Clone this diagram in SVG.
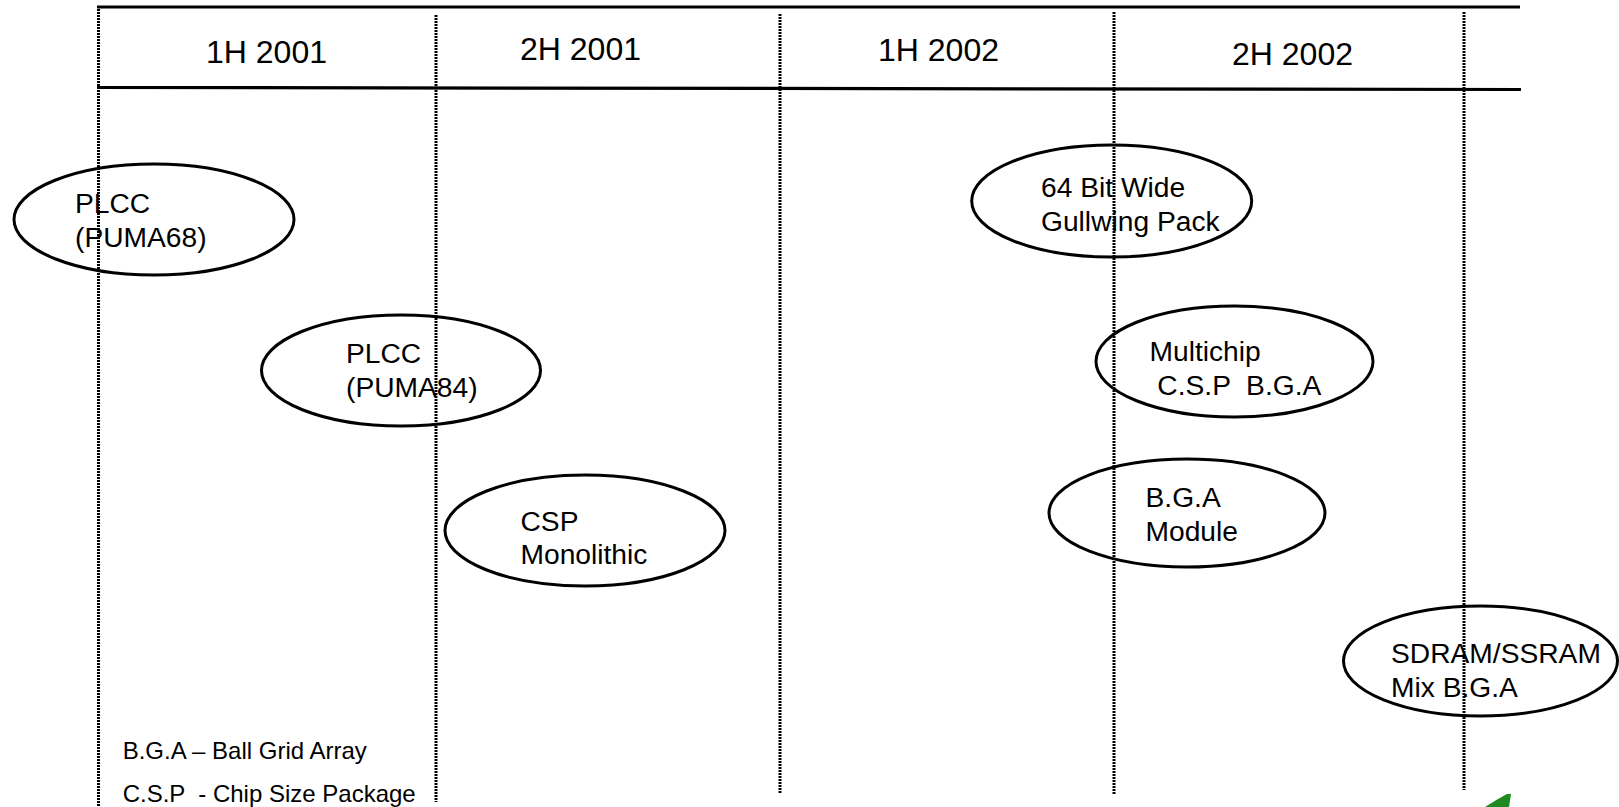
<svg xmlns="http://www.w3.org/2000/svg" width="1619" height="807" viewBox="0 0 1619 807">
<style>
.t{font-family:"Liberation Sans",Arial,sans-serif;fill:#000;}
.h{font-size:32px;}
.n{font-size:28.2px;}
.l{font-size:24px;}
.e{fill:none;stroke:#000;stroke-width:3;}
.v{stroke:#000;stroke-width:3;stroke-dasharray:2 1;fill:none;}
.hl{stroke:#000;stroke-width:3.2;fill:none;}
</style>
<rect width="1619" height="807" fill="#fff"/>
<g id="connectors">
<line class="hl" x1="97" y1="7" x2="1520" y2="7"/>
<line class="hl" x1="97" y1="87.5" x2="1521" y2="89.5"/>
</g>
<g id="header">
<text class="t h" x="206" y="63">1H 2001</text>
<text class="t h" x="520" y="60">2H 2001</text>
<text class="t h" x="878" y="61">1H 2002</text>
<text class="t h" x="1232" y="65">2H 2002</text>
</g>
<g id="plcc68">
<ellipse class="e" cx="154" cy="219.5" rx="140" ry="55.5"/>
<text class="t n" x="75" y="212.7">PLCC</text>
<text class="t n" x="75" y="246.7">(PUMA68)</text>
</g>
<g id="plcc84">
<ellipse class="e" cx="401" cy="370.5" rx="139.5" ry="55.5"/>
<text class="t n" x="346" y="363">PLCC</text>
<text class="t n" x="346" y="397">(PUMA84)</text>
</g>
<g id="csp">
<ellipse class="e" cx="585" cy="530.5" rx="140" ry="55.5"/>
<text class="t n" x="520.5" y="530.5">CSP</text>
<text class="t n" x="520.5" y="563.5">Monolithic</text>
</g>
<g id="gullwing">
<ellipse class="e" cx="1111.7" cy="201" rx="140" ry="56"/>
<text class="t n" x="1041" y="196.7">64 Bit Wide</text>
<text class="t n" x="1041" y="230.7">Gullwing Pack</text>
</g>
<g id="multichip">
<ellipse class="e" cx="1234.5" cy="361.5" rx="138.5" ry="55.5"/>
<text class="t n" x="1149.5" y="360.5">Multichip</text>
<text class="t n" x="1149.5" y="395" xml:space="preserve"> C.S.P  B.G.A</text>
</g>
<g id="bgamodule">
<ellipse class="e" cx="1187" cy="513" rx="138" ry="54"/>
<text class="t n" x="1145.5" y="507">B.G.A</text>
<text class="t n" x="1145.5" y="541">Module</text>
</g>
<g id="sdram">
<ellipse class="e" cx="1480.5" cy="661" rx="137" ry="55"/>
<text class="t n" x="1391" y="662.7">SDRAM/SSRAM</text>
<text class="t n" x="1391" y="696.7">Mix B.G.A</text>
</g>
<g id="dividers">
<line class="v" x1="98.5" y1="9" x2="98.5" y2="807"/>
<line class="v" x1="436" y1="15" x2="436" y2="802"/>
<line class="v" x1="780" y1="14" x2="780" y2="793"/>
<line class="v" x1="1114" y1="12" x2="1114" y2="795"/>
<line class="v" x1="1464" y1="12" x2="1464" y2="790"/>
</g>
<g id="legend">
<text class="t l" x="122.7" y="758.5">B.G.A – Ball Grid Array</text>
<text class="t l" x="122.7" y="802" xml:space="preserve">C.S.P  - Chip Size Package</text>
</g>
<g id="arrow">
<polygon points="1485,807 1498,799 1507,794 1511,794 1509,807" fill="#1f8a1f"/>
</g>
</svg>
